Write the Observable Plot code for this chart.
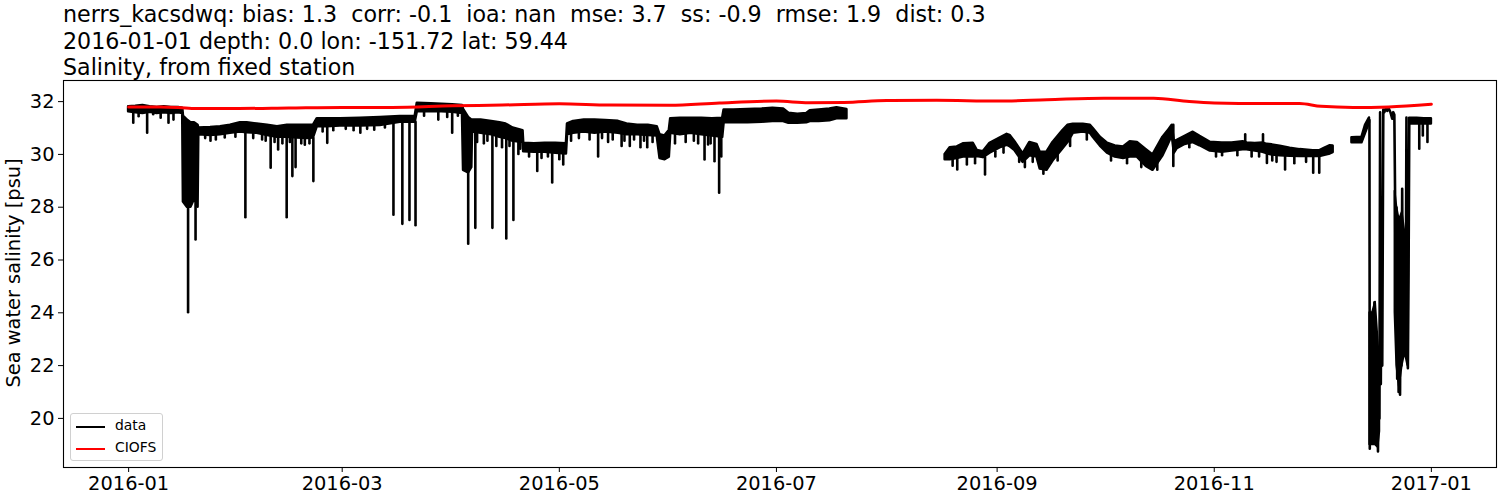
<!DOCTYPE html>
<html>
<head>
<meta charset="utf-8">
<script src="https://cdn.jsdelivr.net/npm/d3@7"></script>
<script src="https://cdn.jsdelivr.net/npm/@observablehq/plot@0.6"></script>
<style>
  html, body { margin: 0; padding: 0; background: white; }
  body { width: 1500px; height: 500px; position: relative; overflow: hidden; font-family: "DejaVu Sans", sans-serif; }
  #title { position: absolute; left: 63px; top: 1px; font-size: 22.2px; line-height: 26.6px; color: black; white-space: pre; z-index: 2; }
  #chart { position: absolute; left: 0; top: 70px; z-index: 1; }
  #ylabel { position: absolute; left: 13px; top: 273px; transform: translate(-50%, -50%) rotate(-90deg); font-size: 19.4px; white-space: nowrap; }
  #legend { position: absolute; left: 70px; top: 413px; width: 91px; height: 46px; border: 1px solid #d0d0d0; border-radius: 3px; background: rgba(255,255,255,0.85); font-size: 13.9px; z-index: 3; }
  .item { position: absolute; left: 0; height: 20px; }
  .swatch { position: absolute; left: 5px; width: 29px; height: 0; border-top: 2.8px solid black; }
  .lab { position: absolute; left: 44px; top: -9px; white-space: nowrap; }
</style>
</head>
<body>
<div id="title"></div>
<div id="chart"></div>
<div id="ylabel"></div>
<div id="legend"></div>
<script>
// ---------- text ----------
const titleLines = [
  "nerrs_kacsdwq: bias: 1.3  corr: -0.1  ioa: nan  mse: 3.7  ss: -0.9  rmse: 1.9  dist: 0.3",
  "2016-01-01 depth: 0.0 lon: -151.72 lat: 59.44",
  "Salinity, from fixed station"
];
const yLabel = "Sea water salinity [psu]";
const seriesNames = ["data", "CIOFS"];
const seriesColors = ["black", "red"];
const xTickLabels = ["2016-01", "2016-03", "2016-05", "2016-07", "2016-09", "2016-11", "2017-01"];
const yTicks = [20, 22, 24, 26, 28, 30, 32];

// ---------- observed data (day since 2016-01-01) ----------
// dense high-frequency record read as its solid envelope: [day, low, high]
const obsBandJanJul = [
  [0,31.62,31.8],[2,31.58,31.82],[4,31.55,31.85],[6,31.6,31.8],[8,31.55,31.78],[10,31.58,31.8],[12,31.55,31.78],[14,31.58,31.78],[15.2,31.55,31.75],
  [15.4,28.2,31.45],[16.5,28.0,31.3],[17.5,28.0,31.2],[18.5,28.3,31.2],[19.5,28.0,31.1],
  [19.7,30.75,31.0],[23,30.72,31.02],[25.8,30.75,31.05],[28.6,30.8,31.1],[31.4,30.85,31.2],[33.3,30.82,31.2],[36.1,30.8,31.15],[39,30.72,31.1],[41.8,30.65,31.05],[44.6,30.65,31.1],[47.4,30.62,31.1],[50.2,30.6,31.1],[51.9,30.62,31.1],
  [53,31.05,31.35],[55.8,31.05,31.35],[59.5,31.08,31.35],[65.1,31.08,31.37],[70.7,31.1,31.4],[76.3,31.22,31.43],[80.5,31.22,31.43],
  [81.1,31.62,31.94],[85,31.62,31.92],[88,31.62,31.9],[91,31.6,31.88],[93.8,31.55,31.85],
  [94.1,29.4,31.7],[95.5,29.3,31.4],[96.4,29.5,31.3],
  [96.6,30.85,31.3],[99,30.8,31.3],[102,30.75,31.25],[104.3,30.65,31.2],[106,30.6,31.15],[108,30.5,31.0],[110.8,30.45,30.9],
  [111,30.1,30.42],[114,30.08,30.4],[117,30.08,30.42],[120,30.05,30.42],[123,30.02,30.4],
  [123.3,30.75,31.15],[125,30.8,31.25],[128,30.85,31.3],[131,30.8,31.3],[134,30.85,31.28],[137.6,30.8,31.25],[140,30.75,31.15],[143,30.75,31.1],[146,30.72,31.1],[148.5,30.7,31.05],
  [149.3,29.85,30.74],[150.7,29.8,30.7],[151.9,29.9,30.9],
  [152.3,30.8,31.35],[155,30.75,31.37],[158,30.8,31.37],[161,30.75,31.37],[164,30.7,31.35],[166.9,30.65,31.37],
  [167.3,31.2,31.68],[170,31.2,31.68],[174,31.2,31.7],[178,31.22,31.72],[181,31.25,31.75],[184,31.25,31.72],
  [185.5,31.18,31.56],[188,31.18,31.52],[190.5,31.2,31.55],[191.5,31.25,31.65],[194,31.25,31.68],[197,31.28,31.72],[199,31.35,31.77],[201.8,31.35,31.7]
];
const obsGapJul = [[215, NaN, NaN]];
const obsBandAugNov = [
  [229.4,29.8,30.0],[230.8,29.8,30.25],[232.8,29.85,30.28],[234.5,29.9,30.4],[237.3,29.9,30.42],[238.4,29.92,30.15],[240.1,29.88,30.1],[242,30.05,30.42],[244.8,30.25,30.62],[246.8,30.35,30.76],[247.6,30.3,30.72],[249,30.15,30.48],[251.3,29.7,30.02],[253.2,29.95,30.45],[255.2,29.9,30.38],[256.1,29.45,30.08],[258.0,29.4,30.08],[259.7,29.75,30.45],[262.5,30.22,30.9],[263.9,30.45,31.1],[265.4,30.8,31.14],[268.2,30.85,31.14],[270.2,30.8,31.1],[271.0,30.65,30.98],[273.0,30.32,30.65],[275.0,30.05,30.42],[277.2,29.9,30.32],[279.5,29.85,30.28],[281.4,29.9,30.48],[283.4,29.9,30.45],[285.9,29.55,30.18],[287.8,29.4,29.98],[290.6,29.95,30.65],[292.0,30.35,30.88],[293.2,30.72,31.1],
  [293.8,30.05,30.48],[294.6,30.22,30.53],[296.8,30.38,30.68],[299.1,30.45,30.84],[301.0,30.33,30.68],[303.9,30.13,30.46],[307.2,30.08,30.43],[310.0,30.13,30.43],[313.1,30.18,30.48],[314.2,30.18,30.43],[316.5,30.13,30.41],[318.7,30.08,30.43],[319.8,30.03,30.38],[321.3,29.98,30.36],[323.5,29.95,30.31],[326.3,29.93,30.23],[329.1,29.92,30.18],[332.8,29.92,30.14],[334.7,29.92,30.14],[336.1,29.97,30.24],[337.6,30.02,30.33],[338.4,30.07,30.32]
];
const obsGapDec = [[341, NaN, NaN]];
const obsBandDec = [[343.7,30.44,30.63],[346.5,30.44,30.65],[347.5,30.8,31.1],[348.6,31.2,31.38],[349, NaN, NaN],[359.9,31.15,31.37],[362,31.15,31.37],[364,31.15,31.35],[366,31.15,31.35]];
// solid cores of the two mid-December freshening events: [day, low, high]
const obsDecCore = [[348.7,19.0,24.0],[349.5,19.0,24.0],[350.3,19.0,24.4],[351.0,18.9,23.0],[351.5,19.5,22.0],[352, NaN, NaN],
  [355.8,24.0,28.6],[356.3,22.0,28.0],[357.0,21.2,27.5],[357.8,22.0,27.8],[358.6,22.5,27.0],[359.4,22.0,26.0]];
// mid-December events read point by point: [day, salinity]
const obsDecEvents = [[348.6,31.3],[348.7,18.85],[348.9,22.5],[349.1,19.5],[349.3,23.5],[349.5,20.0],[349.7,22.8],[349.9,19.2],[350.0,24.4],[350.2,20.5],[350.4,23.0],[350.6,19.0],[350.8,22.0],[351.0,18.75],[351.2,21.5],[351.4,20.0],[351.6,31.6],[351.8,21.3],[352.0,27.4],[352.2,22.0],[352.5,31.7],[352.8,31.6],[353.2,31.75],[353.6,31.65],[354.0,31.75],[354.5,31.6],[355.0,31.35],[355.3,31.6],[355.6,31.5],[355.8,28.6],[356.0,24.0],[356.2,28.0],[356.4,21.5],[356.6,26.5],[356.8,21.0],[357.0,27.0],[357.2,20.9],[357.4,25.5],[357.6,22.0],[357.8,28.7],[358.0,23.0],[358.2,27.0],[358.4,22.5],[358.6,26.0],[358.8,24.0],[359.0,31.4],[359.2,22.5],[359.4,21.9],[359.6,25.5],[359.8,31.3],[359.9,31.3]];
// short excursions out of the band: [day, band edge, extreme]
const obsSpikes = [
  [1.3,31.6,31.18],[2.8,31.6,31.43],[5.2,31.6,30.8],[6.9,31.6,31.5],[9.0,31.6,31.37],[11.2,31.58,31.18],[12.6,31.58,31.3],
  [16.7,28.2,24.0],[18.8,28.1,26.76],
  [21.5,30.75,30.6],[23.0,30.72,30.5],[24.5,30.72,30.55],[27,30.75,30.62],[30,30.8,30.65],[32.8,30.8,27.6],[35,30.8,30.6],[37.5,30.75,30.55],[38.5,30.72,30.5],[39.9,30.7,29.48],[41,30.7,30.45],[42.0,30.65,30.17],[43.2,30.65,30.4],[44.4,30.65,27.6],[45.3,30.65,30.45],[46.0,30.62,29.16],[46.9,30.62,29.5],[48.5,30.62,30.4],[49.5,30.6,30.35],[50.8,30.6,30.4],[51.9,30.6,28.97],
  [54.5,31.05,30.85],[55.8,31.05,30.42],[57.5,31.08,30.9],[61,31.08,30.95],[63.2,31.08,30.9],[65.1,31.08,30.8],[67,31.08,30.95],[69,31.1,30.92],[72,31.1,31.0],[74.4,31.15,27.7],[76.9,31.22,27.35],[78.9,31.22,27.5],[80.6,31.22,27.3],
  [83,31.62,31.45],[87.0,31.62,31.3],[89.5,31.6,31.4],[90.9,31.6,30.8],[92.5,31.58,31.45],
  [95.4,29.5,26.6],[97.4,30.85,27.2],[97.9,30.85,30.45],[99.8,30.8,30.4],[100.8,30.8,30.5],[102.2,30.75,27.2],[103.3,30.75,30.3],[104.9,30.65,30.25],[106.1,30.6,26.8],[107,30.6,30.3],[108.1,30.5,27.5],[109.5,30.45,30.0],[110,30.45,30.2],
  [112.5,30.1,29.9],[114.8,30.08,29.35],[116,30.08,29.85],[117.8,30.08,29.9],[119.0,30.05,28.92],[121,30.05,29.8],[122.1,30.02,29.6],
  [124.3,30.8,30.5],[126.5,30.8,30.6],[129.5,30.85,30.55],[131.9,30.8,29.9],[133,30.85,30.6],[134.7,30.85,30.45],[136,30.8,30.55],[138.5,30.8,30.3],[139.3,30.75,30.5],[140.8,30.75,30.3],[142,30.75,30.55],[143.8,30.75,30.25],[144.8,30.72,30.5],[145.7,30.72,30.25],[147.2,30.7,30.45],
  [153.5,30.8,30.4],[156.5,30.78,30.45],[158.8,30.8,30.5],[160,30.78,30.4],[161.8,30.75,29.79],[162.8,30.75,30.36],[163.5,30.72,30.4],[164.6,30.7,29.72],[165.9,30.68,28.53],[166.5,30.66,29.9],
  [231.5,29.8,29.55],[232.8,29.85,29.41],[235.5,29.9,29.6],[237.8,29.9,29.65],[240.6,29.88,29.22],[243.5,30.1,29.9],[245.8,30.28,30.05],[250.2,29.95,29.7],[251.8,29.75,29.5],[254,29.92,29.7],[257,29.42,29.25],[261,29.98,29.75],[264.5,30.6,30.3],[269.2,30.8,30.55],[276,29.98,29.75],[280.5,29.88,29.65],[284.5,29.75,29.5],[289,29.65,29.4],
  [293.5,31.1,29.54],[298,30.42,30.25],[305.5,30.1,29.9],[307.2,30.08,29.95],[311.5,30.13,29.95],[313.7,30.45,30.74],[315.5,30.13,29.9],[317.6,30.1,29.9],[318.7,30.43,30.74],[319.8,30.03,29.66],[321.3,29.98,29.75],[322.5,29.96,29.7],[324.9,29.94,29.41],[327.5,29.92,29.65],[330.8,29.92,29.7],[332.8,29.92,29.29],[334.5,29.92,29.29],
  [362.6,31.15,30.2],[363.6,31.15,30.7],[364.9,31.15,30.45]
];

// ---------- model (CIOFS) ----------
const modelDates = ["2016-01-01","2016-01-10","2016-01-15","2016-01-20","2016-02-01","2016-02-15","2016-03-01","2016-03-15","2016-04-01","2016-04-15","2016-05-01","2016-05-15","2016-06-01","2016-06-15","2016-07-01","2016-07-10","2016-07-20","2016-08-01","2016-08-15","2016-09-01","2016-09-15","2016-10-01","2016-10-15","2016-10-25","2016-11-01","2016-11-15","2016-11-25","2016-12-01","2016-12-10","2016-12-20","2017-01-01"];
const modelSal = [31.80,31.80,31.78,31.74,31.74,31.76,31.78,31.78,31.84,31.87,31.92,31.87,31.86,31.95,32.02,31.96,31.97,32.04,32.05,32.02,32.07,32.13,32.13,32.00,31.95,31.93,31.93,31.82,31.78,31.80,31.90];

// ---------- build ----------
const t0 = Date.UTC(2016, 0, 1);
const toDate = d => new Date(t0 + d * 86400000);
const band = [...obsBandJanJul, ...obsGapJul, ...obsBandAugNov, ...obsGapDec, ...obsBandDec]
  .map(([d, lo, hi]) => ({date: toDate(d), lo, hi}));
const core = obsDecCore.map(([d, lo, hi]) => ({date: toDate(d), lo, hi}));
const events = obsDecEvents.map(([d, v]) => ({date: toDate(d), sal: v}));
const spikes = obsSpikes.map(([d, a, b]) => ({date: toDate(d), a, b}));
const model = modelDates.map((s, i) => ({date: new Date(s + "T00:00Z"), sal: modelSal[i]}));
const xTicks = xTickLabels.map(s => new Date(s + "-01T00:00Z"));

document.getElementById("title").textContent = titleLines.join("\n");
document.getElementById("ylabel").textContent = yLabel;

const pad = 18.3 * 86400000;
const chart = Plot.plot({
  width: 1500,
  height: 430,
  marginTop: 10,
  marginBottom: 33,
  marginLeft: 63,
  marginRight: 4,
  style: {fontFamily: "DejaVu Sans", fontSize: "19.4px", color: "black", background: "transparent", overflow: "visible"},
  x: {type: "utc", domain: [new Date(t0 - pad), new Date(Date.UTC(2017,0,1) + pad)]},
  y: {domain: [18.14, 32.80]},
  marks: [
    Plot.areaY(band, {x: "date", y1: "lo", y2: "hi", fill: seriesColors[0], stroke: seriesColors[0], strokeWidth: 2.6, strokeLinejoin: "round"}),
    Plot.areaY(core, {x: "date", y1: "lo", y2: "hi", fill: seriesColors[0], stroke: seriesColors[0], strokeWidth: 2, strokeLinejoin: "round"}),
    Plot.ruleX(spikes, {x: "date", y1: "a", y2: "b", stroke: seriesColors[0], strokeWidth: 2.6, strokeLinecap: "round"}),
    Plot.line(events, {x: "date", y: "sal", stroke: seriesColors[0], strokeWidth: 2.6, strokeLinejoin: "round"}),
    Plot.line(model, {x: "date", y: "sal", stroke: seriesColors[1], strokeWidth: 3, curve: "monotone-x"}),
    Plot.axisX({ticks: xTicks, tickFormat: d3.utcFormat("%Y-%m"), tickSize: 5, tickPadding: 4, label: null}),
    Plot.axisY({ticks: yTicks, tickSize: 5, tickPadding: 4, label: null}),
    Plot.frame({stroke: "black", strokeWidth: 1.1})
  ]
});
document.getElementById("chart").appendChild(chart);

const legend = document.getElementById("legend");
seriesNames.forEach((name, i) => {
  const item = document.createElement("div");
  item.className = "item";
  item.style.top = (12 + i * 22) + "px";
  const sw = document.createElement("div");
  sw.className = "swatch";
  sw.style.borderTopColor = seriesColors[i];
  const lab = document.createElement("div");
  lab.className = "lab";
  lab.textContent = name;
  item.appendChild(sw);
  item.appendChild(lab);
  legend.appendChild(item);
});
</script>
</body>
</html>
